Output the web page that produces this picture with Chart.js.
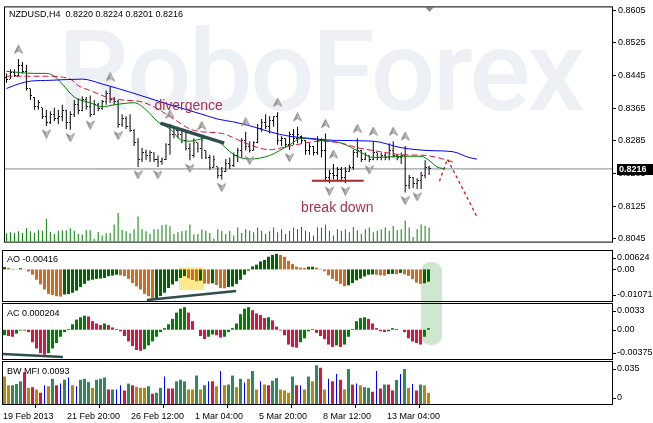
<!DOCTYPE html>
<html>
<head>
<meta charset="utf-8">
<title>NZDUSD H4</title>
<script src="https://cdn.jsdelivr.net/npm/chart.js@4.4.1/dist/chart.umd.min.js"></script>
<style>
  html, body { margin: 0; padding: 0; background: #fff; }
  #wrap { position: relative; width: 653px; height: 423px; overflow: hidden; background: #fff; }
  #wrap canvas { position: absolute; left: 0; }
  #mark { position: absolute; background: #cfe7cf; border-radius: 9px; }
</style>
</head>
<body>
<div id="wrap">
  <div id="mark"></div>
  <canvas id="cMain" width="653" height="249" style="top:0"></canvas>
  <canvas id="cAO" width="653" height="53" style="top:249px"></canvas>
  <canvas id="cAC" width="653" height="58" style="top:302px"></canvas>
  <canvas id="cMFI" width="653" height="63" style="top:360px"></canvas>
</div>
<script>
// ---- data (H4 bars, 19 Feb - 14 Mar 2013) ----
var barOpen = [.8440,.8436,.8452,.8445,.8470,.8455,.8412,.8390,.8368,.8366, .8345,.8330,.8350,.8340,.8345,.8360,.8330,.8350,.8375,.8360,
  .8385,.8370,.8350,.8375,.8365,.8380,.8400,.8385,.8380,.8325, .8340,.8320,.8310,.8280,.8240,.8255,.8248,.8255,.8240,.8235,
  .8240,.8275,.8300,.8310,.8300,.8285,.8265,.8250,.8280,.8265, .8260,.8245,.8220,.8221,.8200,.8210,.8230,.8225,.8250,.8260,
  .8285,.8270,.8262,.8280,.8315,.8330,.8320,.8335,.8345,.8285, .8290,.8275,.8300,.8290,.8295,.8285,.8260,.8270,.8255,.8285,
  .8260,.8195,.8205,.8200,.8215,.8195,.8210,.8220,.8255,.8260, .8240,.8248,.8240,.8255,.8245,.8250,.8245,.8260,.8250,.8245,
  .8250,.8175,.8195,.8180,.8188,.8200,.8220];
var barHigh = [.8450,.8460,.8460,.8485,.8478,.8471,.8413,.8392,.8385,.8366, .8361,.8357,.8366,.8361,.8373,.8361,.8357,.8385,.8389,.8394,
  .8392,.8396,.8385,.8378,.8385,.8408,.8417,.8392,.8385,.8350, .8345,.8350,.8314,.8291,.8268,.8263,.8261,.8256,.8249,.8244,
  .8279,.8326,.8319,.8319,.8314,.8307,.8279,.8291,.8281,.8298, .8261,.8251,.8249,.8221,.8221,.8240,.8244,.8256,.8268,.8291,
  .8307,.8284,.8284,.8326,.8338,.8350,.8345,.8345,.8355,.8296, .8291,.8307,.8314,.8319,.8298,.8286,.8279,.8272,.8296,.8291,
  .8303,.8214,.8228,.8221,.8221,.8221,.8226,.8263,.8291,.8263, .8256,.8249,.8284,.8256,.8256,.8256,.8279,.8284,.8251,.8256,
  .8272,.8202,.8196,.8193,.8209,.8237,.8224];
var barLow = [.8427,.8436,.8441,.8443,.8450,.8408,.8385,.8361,.8361,.8338, .8321,.8326,.8333,.8326,.8333,.8314,.8312,.8343,.8350,.8357,
  .8361,.8343,.8348,.8357,.8361,.8373,.8378,.8373,.8317,.8319, .8314,.8307,.8272,.8221,.8233,.8237,.8233,.8233,.8221,.8226,
  .8238,.8251,.8291,.8291,.8279,.8261,.8237,.8244,.8256,.8240, .8240,.8214,.8219,.8193,.8190,.8209,.8216,.8221,.8233,.8244,
  .8261,.8256,.8261,.8279,.8307,.8314,.8303,.8319,.8275,.8272, .8268,.8263,.8275,.8279,.8277,.8251,.8251,.8249,.8251,.8244,
  .8186,.8181,.8190,.8186,.8186,.8181,.8209,.8214,.8244,.8233, .8237,.8233,.8237,.8237,.8237,.8237,.8237,.8244,.8237,.8228,
  .8158,.8167,.8169,.8167,.8167,.8193,.8201];
var barClose = [.8435,.8452,.8445,.8470,.8455,.8412,.8395,.8368,.8378,.8345, .8330,.8350,.8340,.8345,.8360,.8330,.8350,.8375,.8360,.8385,
  .8370,.8350,.8375,.8365,.8380,.8400,.8385,.8380,.8325,.8340, .8320,.8310,.8280,.8240,.8255,.8248,.8255,.8240,.8235,.8240,
  .8275,.8300,.8310,.8300,.8285,.8265,.8250,.8280,.8265,.8285, .8245,.8220,.8240,.8200,.8210,.8230,.8225,.8250,.8260,.8285,
  .8270,.8262,.8280,.8315,.8330,.8320,.8335,.8345,.8285,.8290, .8275,.8300,.8290,.8300,.8285,.8260,.8270,.8255,.8285,.8260,
  .8195,.8205,.8200,.8215,.8195,.8210,.8220,.8255,.8260,.8240, .8250,.8240,.8255,.8245,.8250,.8245,.8260,.8250,.8245,.8250,
  .8175,.8195,.8180,.8188,.8200,.8220,.8216];
var volume = [870,970,900,1070,900,1400,1070,900,1230,1130, 2400,1000,800,1130,1200,1200,1400,1130,800,730,
  1200,1200,300,1000,630,870,900,1800,3000,1230, 1070,870,1300,2630,1300,1070,800,1300,1300,1730,
  1800,1600,800,970,1070,1200,1800,730,800,1270, 1130,900,330,1300,1130,800,1130,630,1470,900,
  1300,1130,970,1470,1130,800,1070,1470,970,1300, 800,1130,1470,1300,1530,1130,970,630,1470,1470,
  1800,1130,630,1300,1130,1300,970,1530,1200,800, 1300,1470,970,1130,1300,1470,1130,1630,1200,1300,
  2200,1470,470,1300,1800,1630,1470];

// alligator lines (bar index, price)
var jawBars = [0,3,6,11,19,24,32,41,49,53,57,62,66,71,76,82,92,99,106,112,116,118];
var jawValues = [.8413,.8424,.8431,.8433,.8436,.8424,.8401,.8373,.8350,.8338,.8331,.8319,.8307,.8296,.8291,.8286,.8284,.8268,.8261,.8258,.8244,.8240];
var teethBars = [0,10,16,18,21,26,29,34,37,42,46,49,54,60,66,71,79,84,88,92,99,105,108,112];
var teethValues = [.8443,.8443,.8436,.8420,.8408,.8389,.8385,.8380,.8368,.8338,.8314,.8307,.8303,.8279,.8263,.8272,.8284,.8279,.8268,.8261,.8251,.8249,.8244,.8233];
var lipsBars = [0,7,10,12,14,17,21,24,27,32,35,38,41,44,46,50,53,57,61,66,71,74,79,84,89,92,100,104,106,108,110];
var lipsValues = [.8455,.8450,.8450,.8443,.8424,.8392,.8378,.8368,.8373,.8378,.8361,.8331,.8314,.8286,.8284,.8291,.8284,.8251,.8240,.8249,.8275,.8291,.8286,.8279,.8256,.8244,.8247,.8247,.8237,.8221,.8216];

var upFractals = [3,26,41,49,60,68,73,80,82,88,92,97,100];
var downFractals = [10,16,21,28,33,38,46,54,61,71,81,85,91,100,103];

var aoValues = [.0008,.0005,.0002,.0001,.0004,.0001,-.0007,-.0018,-.0035,-.0051, -.0068,-.0083,-.0087,-.0091,-.0092,-.0085,-.0084,-.0079,-.0072,-.0060,
  -.0049,-.0038,-.0035,-.0032,-.0031,-.0029,-.0023,-.0021,-.0018,-.0020, -.0023,-.0032,-.0046,-.0057,-.0068,-.0083,-.0091,-.0098,-.0097,-.0090,
  -.0079,-.0063,-.0051,-.0040,-.0029,-.0023,-.0030,-.0036,-.0040,-.0038, -.0048,-.0049,-.0047,-.0053,-.0063,-.0064,-.0060,-.0058,-.0049,-.0035,
  -.0018,-.0004,.0010,.0016,.0027,.0032,.0043,.0049,.0053,.0049, .0043,.0029,.0018,.0009,.0006,.0005,.0009,.0009,.0006,.0002,
  -.0006,-.0020,-.0032,-.0040,-.0049,-.0057,-.0054,-.0046,-.0037,-.0031, -.0024,-.0018,-.0017,-.0018,-.0020,-.0021,-.0016,-.0015,-.0016,-.0012,
  -.0017,-.0022,-.0033,-.0045,-.0049,-.0047,-.00416];
var acValues = [-.0007,-.0008,-.0009,-.0005,-.0001,-.0001,-.0003,-.0016,-.0024,-.0030, -.0032,-.0030,-.0024,-.0017,-.0009,-.0003,.0001,.0007,.0013,.0016,
  .0018,.0017,.0011,.0008,.0006,.0008,.0006,.0003,.0001,-.0002, -.0008,-.0015,-.0021,-.0026,-.0027,-.0025,-.0020,-.0015,-.0009,-.0003,
  .0002,.0007,.0014,.0022,.0027,.0029,.0022,.0011,.0000,-.0008, -.0012,-.0009,-.0006,-.0007,-.0010,-.0009,-.0003,.0002,.0008,.0020,
  .0027,.0029,.0025,.0021,.0019,.0015,.0016,.0012,.0004,-.0001, -.0007,-.0019,-.0022,-.0023,-.0016,-.0011,-.0002,.0001,-.0004,-.0008,
  -.0012,-.0019,-.0022,-.0020,-.0022,-.0019,-.0009,.0001,.0011,.0015, .0016,.0014,.0008,.0002,-.0002,-.0003,-.0002,.0002,.0001,.0000,
  -.0003,-.0011,-.0015,-.0017,-.0019,-.0009,.000204];
var mfiValues = [.0229,.0156,.0156,.0167,.0189,.0264,.0135,.0140,.0121,.0094, .0156,.0148,.0210,.0156,.0170,.0202,.0221,.0156,.0148,.0202,
  .0210,.0183,.0135,.0202,.0210,.0221,.0121,.0121,.0121,.0156, .0113,.0170,.0156,.0143,.0135,.0135,.0148,.0086,.0094,.0135,
  .0229,.0129,.0129,.0189,.0202,.0189,.0121,.0121,.0237,.0121, .0156,.0189,.0189,.0148,.0275,.0156,.0162,.0237,.0140,.0210,
  .0180,.0210,.0275,.0121,.0189,.0162,.0156,.0194,.0216,.0121, .0113,.0094,.0229,.0156,.0156,.0121,.0229,.0189,.0323,.0302,
  .0121,.0210,.0189,.0251,.0202,.0121,.0291,.0162,.0170,.0156, .0140,.0135,.0102,.0275,.0129,.0162,.0162,.0113,.0200,.0251,
  .0291,.0135,.0167,.0113,.0162,.0156,.0093];
// BW MFI zone per bar: g = green, f = fade, b = fake, s = squat
var mfiZone = ("ffgggsfsfs" + "bfgsbgbfbg" + "ggfgggsgbb" + "sgsfffgsgg" + "bssgggffgf" +
  "gbsfbfggfg" + "bfgfbfsggf" + "ffgsbfgfgs" + "fbsbsfgsbf" + "ggsbsgssgb" + "gfbsgff").split("");

var priceTicks = [0.8045, 0.8125, 0.8205, 0.8285, 0.8365, 0.8445, 0.8525, 0.8605];
var aoTicks = [0.00624, 0, -0.01071], aoTickLabels = ["0.00624", "0.00", "-0.01071"];
var acTicks = [0.0033, 0, -0.00375], acTickLabels = ["0.0033", "0.00", "-0.00375"];
var mfiTicks = [0.035, 0], mfiTickLabels = ["0.035", "0"];
var dateLabels = ["19 Feb 2013", "21 Feb 20:00", "26 Feb 12:00", "1 Mar 04:00", "5 Mar 20:00", "8 Mar 12:00", "13 Mar 04:00"];

// ---- helpers ----
var FONT = "'Liberation Sans', Arial, sans-serif";
var SMALL = "9px " + FONT;
Chart.defaults.font.family = FONT;
Chart.defaults.font.size = 9;
Chart.defaults.color = "#000";
Chart.defaults.animation = false;
Chart.defaults.events = [];
Chart.defaults.plugins.legend.display = false;
Chart.defaults.plugins.tooltip.enabled = false;

var X_MIN = -0.375, X_MAX = 151.875;
var last = barClose.length - 1;

function pts(xs, ys) { return ys.map(function (v, i) { return { x: xs ? xs[i] : i, y: v }; }); }

function tickImg(right) {
  var c = document.createElement("canvas"); c.width = 3; c.height = 1;
  var g = c.getContext("2d"); g.fillStyle = "#000"; g.fillRect(right ? 2 : 0, 0, 1, 1);
  return c;
}
function arrowImg(up) {
  var c = document.createElement("canvas"); c.width = 9; c.height = up ? 29 : 25;
  var g = c.getContext("2d");
  if (!up) { g.translate(0, c.height); g.scale(1, -1); }
  g.beginPath(); g.moveTo(4.5, 0.5); g.lineTo(8.5, 8.5); g.lineTo(4.5, 6); g.lineTo(0.5, 8.5); g.closePath();
  g.fillStyle = "#cfcfcf"; g.fill();
  g.beginPath(); g.moveTo(4.5, 0.5); g.lineTo(0.5, 8.5); g.lineTo(4.5, 6); g.closePath();
  g.fillStyle = "#9a9a9a"; g.fill();
  g.strokeStyle = "#7a7a7a"; g.lineWidth = 0.8;
  g.beginPath(); g.moveTo(4.5, 0.5); g.lineTo(8.5, 8.5); g.lineTo(4.5, 6); g.lineTo(0.5, 8.5); g.closePath(); g.stroke();
  return c;
}

function xAxis(show) {
  var ax = { type: "linear", min: X_MIN, max: X_MAX, offset: false, display: show };
  if (show) {
    ax.afterBuildTicks = function (s) { s.ticks = dateLabels.map(function (_, k) { return { value: k * 16 - 0.375 }; }); };
    ax.ticks = { callback: function (v, k) { return dateLabels[k]; }, align: "start", autoSkip: false, maxRotation: 0, padding: 3 };
    ax.grid = { drawOnChartArea: false, tickLength: 4, color: "#000" };
    ax.border = { display: false };
    ax.afterFit = function (s) { s.height = 18; };
  }
  return ax;
}
function sideAxis(min, max) {
  return {
    type: "linear", position: "right", min: min, max: max,
    ticks: { display: false }, grid: { display: false }, border: { display: false },
    afterFit: function (s) { s.width = 41; }
  };
}

// frame, panel title and inset right-hand labels
var panelPlugin = {
  id: "panel",
  afterDraw: function (chart, args, o) {
    var ctx = chart.ctx, a = chart.chartArea;
    ctx.save();
    ctx.strokeStyle = "#000"; ctx.lineWidth = 1;
    ctx.strokeRect(a.left - 0.5, a.top - 0.5, a.right - a.left + 1, a.bottom - a.top + 1);
    ctx.fillStyle = "#000"; ctx.font = SMALL; ctx.textBaseline = "middle"; ctx.textAlign = "left";
    if (o.title) ctx.fillText(o.title, a.left + 4, a.top + o.titleY);
    if (o.values) {
      var y = chart.scales.y;
      o.values.forEach(function (v, k) {
        var py = Math.min(Math.max(y.getPixelForValue(v), a.top + 7), a.bottom - 6);
        ctx.fillRect(a.right + 1, Math.round(py), 3, 1);
        ctx.fillText(o.labels[k], a.right + 5, py);
      });
    }
    ctx.restore();
  }
};

// watermark, notes, price label, shift marker on the price window
var mainPlugin = {
  id: "mainExtras",
  beforeDatasetsDraw: function (chart) {
    var ctx = chart.ctx;
    ctx.save();
    ctx.fillStyle = "#edf0f4";
    ctx.font = "500 114px Roboto, 'Liberation Sans', sans-serif";
    ctx.letterSpacing = "-2.8px";
    ctx.textBaseline = "alphabetic";
    ctx.fillText("RoboForex", 58, 110);
    ctx.restore();
  },
  afterDraw: function (chart) {
    var ctx = chart.ctx, x = chart.scales.x, y = chart.scales.y, a = chart.chartArea;
    ctx.save();
    ctx.font = "14px 'Liberation Sans', Arial, sans-serif";
    ctx.fillStyle = "#a8304e"; ctx.textBaseline = "alphabetic"; ctx.textAlign = "left";
    ctx.fillText("divergence", x.getPixelForValue(37.1), y.getPixelForValue(0.8361));
    ctx.fillText("break down", x.getPixelForValue(73.9), y.getPixelForValue(0.8111));
    var py = Math.round(y.getPixelForValue(barClose[last]));
    ctx.fillStyle = "#000"; ctx.fillRect(a.right + 5, py - 5, 653 - a.right - 5, 11);
    ctx.fillStyle = "#fff"; ctx.font = "bold 9px " + FONT; ctx.textBaseline = "middle";
    ctx.fillText(barClose[last].toFixed(4), a.right + 7, py + 0.5);
    var sx = Math.round(x.getPixelForValue(last)) + 0.5;
    ctx.fillStyle = "#8a8a8a";
    ctx.beginPath(); ctx.moveTo(sx - 4, a.top); ctx.lineTo(sx + 4, a.top); ctx.lineTo(sx, a.top + 4.5); ctx.closePath(); ctx.fill();
    ctx.restore();
  }
};

function basePadding(top) { return { padding: { left: 3, right: 0, top: top, bottom: 1 } }; }
function barSet(data, color, order, thick) {
  return { type: "bar", data: data, backgroundColor: color, borderWidth: 0, barThickness: thick || 3,
    grouped: false, inflateAmount: 0, order: order };
}
function lineSet(data, color, width, order, extra) {
  var d = { type: "line", data: data, borderColor: color, borderWidth: width, pointRadius: 0, fill: false, order: order };
  for (var k in extra) d[k] = extra[k];
  return d;
}

// ---- price window ----
var hlData = barLow.map(function (l, i) { return { x: i, y: [l, barHigh[i]] }; });
var upData = upFractals.map(function (i) { return { x: i, y: barHigh[i] }; });
var dnData = downFractals.map(function (i) { return { x: i, y: barLow[i] }; });

new Chart(document.getElementById("cMain"), {
  type: "line",
  data: {
    datasets: [
      Object.assign(barSet(pts(null, volume), "#008000", 20, 1), { yAxisID: "yv" }),
      lineSet([{ x: X_MIN, y: barClose[last] }, { x: X_MAX, y: barClose[last] }], "#778899", 1, 15),
      barSet(hlData, "#000", 10, 1),
      { type: "line", data: pts(null, barOpen), showLine: false, pointStyle: tickImg(false), pointRadius: 1, order: 10 },
      { type: "line", data: pts(null, barClose), showLine: false, pointStyle: tickImg(true), pointRadius: 1, order: 10 },
      lineSet(pts(jawBars, jawValues), "#0000ff", 1, 8, { cubicInterpolationMode: "monotone" }),
      lineSet(pts(teethBars, teethValues), "#dc143c", 1, 8, { cubicInterpolationMode: "monotone", borderDash: [6, 3] }),
      lineSet(pts(lipsBars, lipsValues), "#008000", 1, 8, { cubicInterpolationMode: "monotone" }),
      { type: "line", data: upData, showLine: false, pointStyle: arrowImg(true), pointRadius: 1, order: 6 },
      { type: "line", data: dnData, showLine: false, pointStyle: arrowImg(false), pointRadius: 1, order: 6 },
      lineSet([{ x: 38.6, y: 0.8328 }, { x: 54.6, y: 0.8279 }], "#2f4f4f", 3.5, 2),
      lineSet([{ x: 76.6, y: 0.8187 }, { x: 89.6, y: 0.8187 }], "#a52a2a", 2, 2),
      lineSet([{ x: 108.6, y: 0.8186 }, { x: 110.6, y: 0.8240 }, { x: 118.1, y: 0.8097 }], "#b22222", 1.3, 2, { borderDash: [3, 3] })
    ]
  },
  options: {
    responsive: false,
    layout: basePadding(3),
    scales: {
      x: xAxis(false),
      y: {
        type: "linear", position: "right", min: 0.80380, max: 0.86116,
        afterBuildTicks: function (s) { s.ticks = priceTicks.map(function (v) { return { value: v }; }); },
        ticks: { callback: function (v) { return v.toFixed(4); }, padding: 2 },
        grid: { drawOnChartArea: false, tickLength: 4, color: "#000" },
        border: { display: false },
        afterFit: function (s) { s.width = 41; }
      },
      yv: { type: "linear", display: false, min: 0, max: 24500 }
    },
    plugins: { panel: { title: "NZDUSD,H4  0.8220 0.8224 0.8201 0.8216", titleY: 7.5 } }
  },
  plugins: [mainPlugin, panelPlugin]
});

// ---- Awesome Oscillator ----
function trendColors(vals, upC, dnC) {
  var up = true;
  return vals.map(function (v, i) {
    if (i > 0 && v > vals[i - 1]) up = true;
    else if (i > 0 && v < vals[i - 1]) up = false;
    return up ? upC : dnC;
  });
}
var aoColors = trendColors(aoValues, "#006400", "#d2691e");
var aoChart = new Chart(document.getElementById("cAO"), {
  type: "bar",
  data: {
    datasets: [
      barSet([{ x: 46.75, y: [-0.0070, 0.0007] }], "#ffe98a", 20, 25),
      barSet(pts(null, aoValues), aoColors, 10),
      lineSet([{ x: 35.6, y: -0.01037 }, { x: 57.9, y: -0.00732 }], "#2f4f4f", 2.5, 2)
    ]
  },
  options: {
    responsive: false,
    layout: basePadding(2),
    scales: { x: xAxis(false), y: sideAxis(-0.01071, 0.00624) },
    plugins: { panel: { title: "AO -0.00416", titleY: 9, values: aoTicks, labels: aoTickLabels } }
  },
  plugins: [panelPlugin]
});

// ---- Accelerator Oscillator ----
var acColors = trendColors(acValues, "#008000", "#dc143c");
new Chart(document.getElementById("cAC"), {
  type: "bar",
  data: {
    datasets: [
      barSet(pts(null, acValues), acColors, 10),
      lineSet([{ x: -0.4, y: -0.00311 }, { x: 14.6, y: -0.00349 }], "#2f4f4f", 2.5, 2)
    ]
  },
  options: {
    responsive: false,
    layout: basePadding(2),
    scales: { x: xAxis(false), y: sideAxis(-0.00375, 0.0033) },
    plugins: { panel: { title: "AC 0.000204", titleY: 9.5, values: acTicks, labels: acTickLabels } }
  },
  plugins: [panelPlugin]
});

// ---- Market Facilitation Index ----
var zoneColor = { g: "#2e8b57", f: "#b8860b", b: "#0000ff", s: "#dc143c" };
var mfiWide = mfiValues.map(function (v, i) { return { x: i, y: mfiZone[i] === "b" ? null : v }; });
var mfiThin = mfiValues.map(function (v, i) { return { x: i, y: mfiZone[i] === "b" ? v : null }; });
new Chart(document.getElementById("cMFI"), {
  type: "bar",
  data: {
    datasets: [
      barSet(mfiWide, mfiZone.map(function (z) { return zoneColor[z]; }), 10),
      barSet(mfiThin, zoneColor.b, 10, 1)
    ]
  },
  options: {
    responsive: false,
    layout: basePadding(2),
    scales: { x: xAxis(true), y: sideAxis(0, 0.035) },
    plugins: { panel: { title: "BW MFI 0.0093", titleY: 10, values: mfiTicks, labels: mfiTickLabels } }
  },
  plugins: [panelPlugin]
});

// highlight box spanning AO and AC windows
var hx = aoChart.scales.x;
var mark = document.getElementById("mark");
var left = hx.getPixelForValue(104.1), right = hx.getPixelForValue(109.4);
mark.style.left = left + "px"; mark.style.width = (right - left) + "px";
mark.style.top = "262px"; mark.style.height = "83px";
</script>
</body>
</html>
